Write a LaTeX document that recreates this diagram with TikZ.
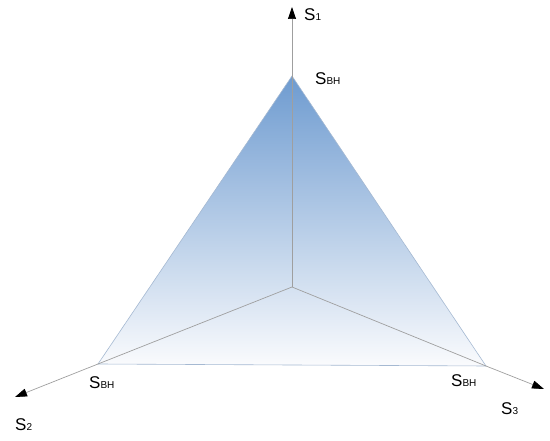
\documentclass[tikz,border=0pt]{standalone}
\usepackage{fontspec}
\setmainfont{Liberation Sans}
\usetikzlibrary{arrows.meta}
\newcommand\mysub[1]{{\fontsize{10}{10}\selectfont #1}}
\begin{document}
\begin{tikzpicture}[x=1pt,y=-1pt,
  axis/.style={draw=gray!75, line width=0.7pt, -{Triangle[length=12pt,width=8pt,color=black]}},
  inner/.style={draw=gray!75, line width=0.7pt},
  lbl/.style={inner sep=0pt, font=\fontsize{17}{17}\selectfont}]
\useasboundingbox (0,0) rectangle (550,441);
\coordinate (O) at (292,287);
\coordinate (A) at (292,76);
\coordinate (B) at (98,364);
\coordinate (C) at (486,366);
\coordinate (T1) at (292,7);
\coordinate (T2) at (15,397);
\coordinate (T3) at (544,389);
\shade[top color={rgb,255:red,110;green,155;blue,208}, bottom color={rgb,255:red,250;green,251;blue,253}]
  (A) -- (B) -- (C) -- cycle;
\draw[draw={rgb,255:red,165;green,185;blue,210}, line width=0.6pt] (A) -- (B) -- (C) -- cycle;
\draw[inner] (O) -- (A);
\draw[inner] (O) -- (B);
\draw[inner] (O) -- (C);
\draw[axis] (A) -- (T1);
\draw[axis] (B) -- (T2);
\draw[axis] (C) -- (T3);
\node[lbl, anchor=base west] (l1) at (304,21) {S\mysub{1}};
\node[lbl, anchor=base west] (la) at (315,85) {S\mysub{BH}};
\node[lbl, anchor=base west] (lb) at (89,389) {S\mysub{BH}};
\node[lbl, anchor=base west] (lc) at (451,387) {S\mysub{BH}};
\node[lbl, anchor=base west] (l2) at (15,431) {S\mysub{2}};
\node[lbl, anchor=base west] (l3) at (501,415) {S\mysub{3}};
\end{tikzpicture}
\end{document}
